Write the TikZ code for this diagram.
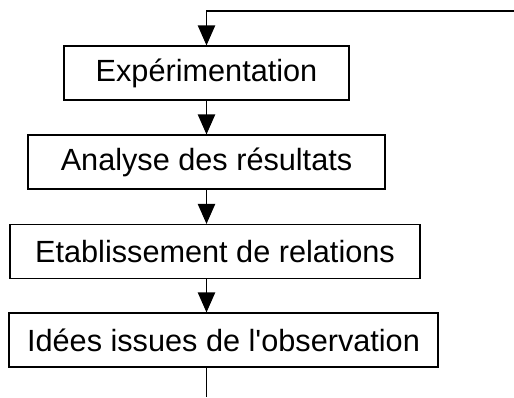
\documentclass[tikz,border=0pt]{standalone}
\usepackage{fontspec}
\setmainfont{Liberation Sans}
\usepackage{tikz}
\usetikzlibrary{arrows.meta,positioning,calc}

\begin{document}
\begin{tikzpicture}[x=0.75pt, y=-0.75pt,
  stepbox/.style={draw, line width=0.9pt, minimum height=40.5pt, inner sep=0pt,
    font=\fontsize{23}{27}\selectfont},
  flow/.style={line width=0.9pt, -{Triangle[length=15pt, width=13pt]}}]
\useasboundingbox (0,0) rectangle (514,397);
% Boxes
\node[stepbox, minimum width=213.75pt] (expe)    at (206.5,73)    {Expérimentation};
\node[stepbox, minimum width=267.75pt] (analyse) at (206.5,162)   {Analyse des résultats};
\node[stepbox, minimum width=307.5pt]  (etab)    at (215,251.5)   {Etablissement de relations};
\node[stepbox, minimum width=321.75pt] (idees)   at (223.5,340)   {Idées issues de l\textquotesingle observation};
% Loop ends
\coordinate (retour) at (514,11);
\coordinate (sortie) at (206.5,397);
% Arrows
\draw[flow] (retour) -- (retour -| expe.north) -- (expe.north);
\draw[flow] (expe.south) -- (expe.south |- analyse.north);
\draw[flow] (analyse.south) -- (analyse.south |- etab.north);
\draw[flow] (analyse.south |- etab.south) -- (analyse.south |- idees.north);
\draw[line width=0.9pt] (sortie |- idees.south) -- (sortie);
\end{tikzpicture}
\end{document}
